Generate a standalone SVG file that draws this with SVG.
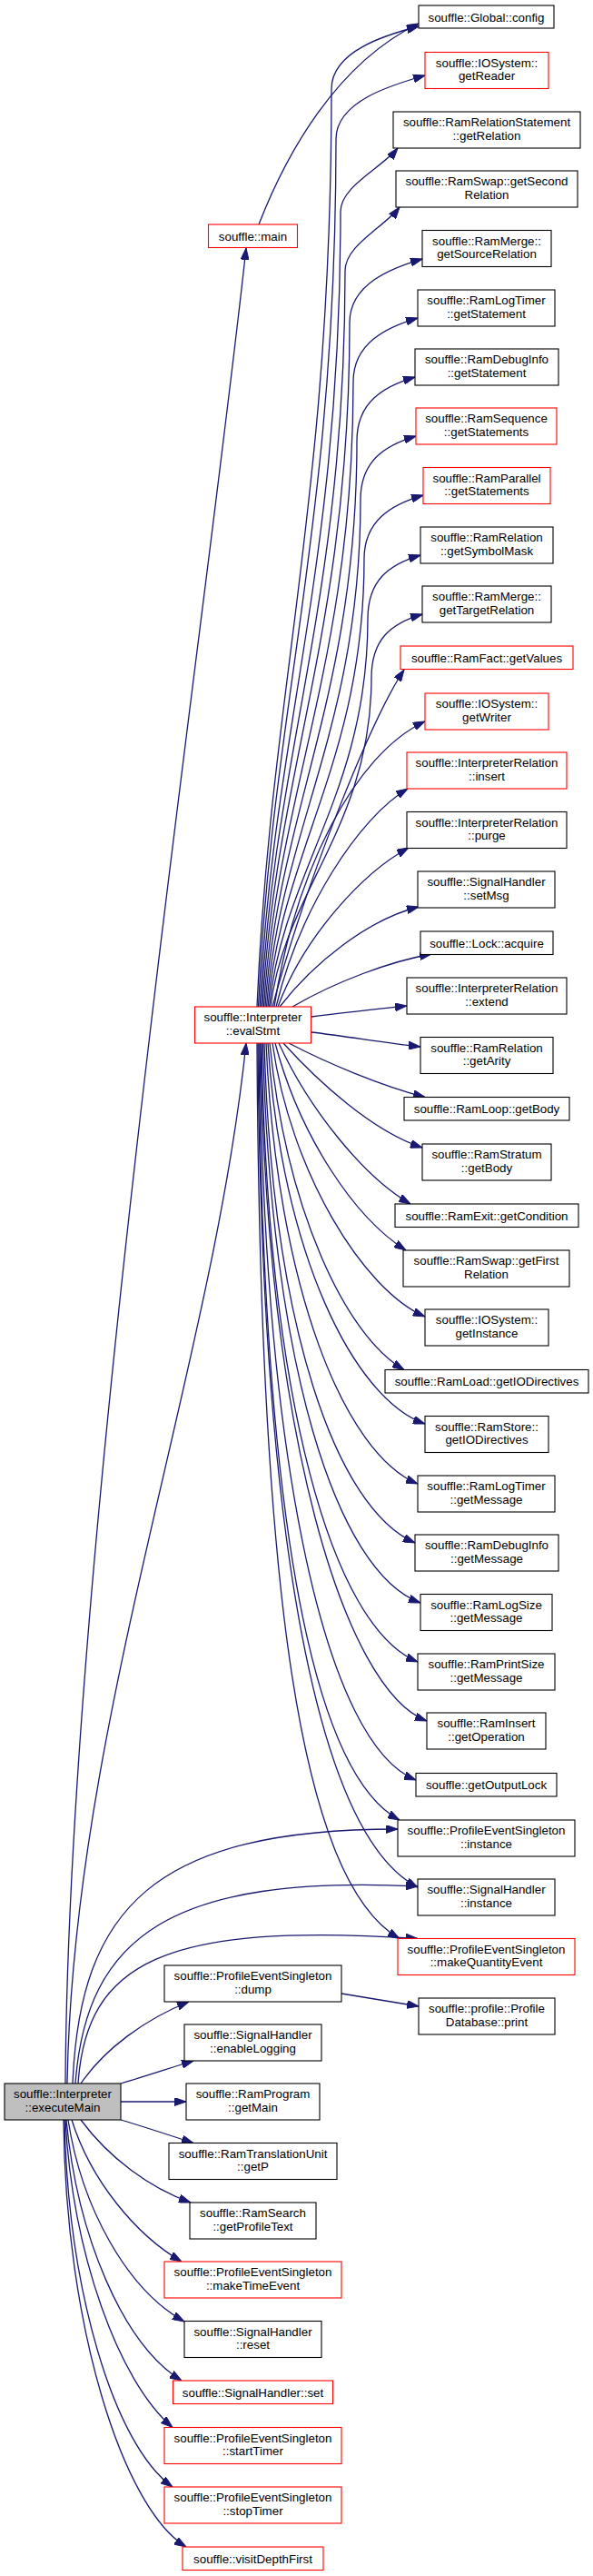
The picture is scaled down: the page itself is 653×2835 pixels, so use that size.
<svg xmlns="http://www.w3.org/2000/svg" width="653" height="2835" viewBox="0 0 653 2835">
<style>
.node rect{fill:#ffffff;stroke:#000000;stroke-width:1.1}
.node.trunc rect{stroke:#ff0000}
.node.root rect{fill:#bfbfbf}
.node text{font-family:"Liberation Sans",Arial,Helvetica,sans-serif;font-size:13.33px;text-anchor:middle;fill:#000000}
.edges path{fill:none;stroke:#191970;stroke-width:1.3;marker-end:url(#ah)}
</style>
<defs>
<marker id="ah" markerWidth="13" markerHeight="9" refX="13" refY="4.5" orient="auto" markerUnits="userSpaceOnUse">
<path d="M0,0 L13,4.5 L0,9 z" fill="#191970" stroke="#191970" stroke-width="1"/>
</marker>
</defs>
<rect x="0" y="0" width="653" height="2835" fill="#ffffff"/>
<g id="edges" class="edges">
<path d="M285,247 C315,170 370,70 461,26"/>
<path d="M283,1108 C298,754 365,552 365,98 C365,56 426,38 461,29"/>
<path d="M284.5,1108 C299.5,774 370,583 370,153 C370,111 433,93 468,83"/>
<path d="M286,1108 C301,802 375,627 375,233 C375,205 420,185 438,163"/>
<path d="M287.5,1108 C302.5,824 380,662 380,298 C380,270 423,250 440,228"/>
<path d="M289,1108 C304,844 385,694 385,355 C385,313 430,295 465,285"/>
<path d="M290.5,1108 C305.5,867 389,730 389,420 C389,378 425,360 460,350"/>
<path d="M292,1108 C307,890 393,765 393,485 C393,443 422,425 457,415"/>
<path d="M293.5,1108 C308.5,913 397,801 397,550 C397,508 423,490 458,480"/>
<path d="M295,1108 C310,935 401,837 401,615 C401,573 431,555 466,545"/>
<path d="M296.5,1108 C311.5,958 405,873 405,681 C405,639 428,621 463,611"/>
<path d="M298,1108 C313,981 409,909 409,746 C409,704 430,686 465,676"/>
<path d="M300,1108 C340,960 410,790 445,737"/>
<path d="M302,1108 C325,960 390,830 468,794"/>
<path d="M304,1108 C330,1000 395,900 449,868"/>
<path d="M306,1108 C335,1030 400,960 450,933"/>
<path d="M308,1108 C345,1060 405,1012 461,998"/>
<path d="M322,1108 C370,1080 430,1058 475,1050"/>
<path d="M343,1119 C380,1114 420,1110 448,1107"/>
<path d="M343,1136 C385,1141 425,1148 463,1152"/>
<path d="M318,1148 C360,1170 420,1195 468,1207.5"/>
<path d="M312,1148 C350,1190 410,1245 465,1263"/>
<path d="M307,1148 C340,1220 400,1295 452,1325"/>
<path d="M303,1148 C330,1250 390,1340 447,1376"/>
<path d="M300,1148 C320,1290 400,1420 468,1449"/>
<path d="M297,1148 C315,1330 380,1470 445,1507.5"/>
<path d="M295,1148 C310,1380 390,1540 468,1567"/>
<path d="M293,1148 C305,1420 380,1600 460,1633"/>
<path d="M291,1148 C300,1460 370,1660 457,1698"/>
<path d="M289.5,1148 C298,1500 370,1730 463,1764"/>
<path d="M288,1148 C295,1540 365,1790 460,1829"/>
<path d="M287,1148 C293,1580 380,1860 470,1894"/>
<path d="M286,1148 C291,1620 360,1920 458,1959"/>
<path d="M285,1148 C289,1650 340,1950 440,2003"/>
<path d="M284,1148 C288,1700 350,2020 460,2077"/>
<path d="M283,1148 C286,1750 330,2070 440,2133.5"/>
<path d="M72,2293 C75,1700 225,700 271,273"/>
<path d="M74,2293 C80,1900 235,1500 271,1148"/>
<path d="M80,2293 C88,2100 170,2013 438,2013"/>
<path d="M83,2293 C95,2130 190,2063 460,2076"/>
<path d="M86,2293 C95,2160 180,2115 460,2133.5"/>
<path d="M89,2293 C115,2255 160,2222 208,2203"/>
<path d="M133,2293 C160,2285 190,2275 213,2268"/>
<path d="M133,2313 L205,2313"/>
<path d="M133,2333 C160,2341 190,2351 213,2358.5"/>
<path d="M89,2333 C120,2375 165,2408 210,2424"/>
<path d="M79,2333 C100,2400 150,2460 200,2489"/>
<path d="M75,2333 C90,2430 140,2520 203,2555"/>
<path d="M73,2333 C85,2460 135,2580 200,2620"/>
<path d="M72,2333 C80,2480 130,2620 190,2671.5"/>
<path d="M71,2333 C75,2520 125,2690 190,2737"/>
<path d="M70,2333 C72,2560 135,2760 205,2803"/>
<path d="M376,2194 C400,2198 430,2203 461,2208"/>
</g>
<g id="n_executeMain" class="node root"><rect x="5" y="2293" width="128" height="40"/><text x="69" y="2309">souffle::Interpreter</text><text x="69" y="2323.5">::executeMain</text></g>
<g id="n_main" class="node trunc"><rect x="229.5" y="247" width="98" height="25.5"/><text x="278.5" y="264.5">souffle::main</text></g>
<g id="n_evalStmt" class="node trunc"><rect x="214.5" y="1108" width="128" height="40"/><text x="278.5" y="1124">souffle::Interpreter</text><text x="278.5" y="1138.5">::evalStmt</text></g>
<g id="n_dump" class="node"><rect x="181" y="2163" width="195" height="40"/><text x="278.5" y="2179">souffle::ProfileEventSingleton</text><text x="278.5" y="2193.5">::dump</text></g>
<g id="n_enableLogging" class="node"><rect x="203" y="2228" width="151" height="40"/><text x="278.5" y="2244">souffle::SignalHandler</text><text x="278.5" y="2258.5">::enableLogging</text></g>
<g id="n_getMain" class="node"><rect x="205" y="2293" width="147" height="40"/><text x="278.5" y="2309">souffle::RamProgram</text><text x="278.5" y="2323.5">::getMain</text></g>
<g id="n_getP" class="node"><rect x="186" y="2358.5" width="185" height="40"/><text x="278.5" y="2374.5">souffle::RamTranslationUnit</text><text x="278.5" y="2389">::getP</text></g>
<g id="n_getProfileText" class="node"><rect x="209" y="2424" width="139" height="40"/><text x="278.5" y="2440">souffle::RamSearch</text><text x="278.5" y="2454.5">::getProfileText</text></g>
<g id="n_makeTimeEvent" class="node trunc"><rect x="181" y="2489" width="195" height="40"/><text x="278.5" y="2505">souffle::ProfileEventSingleton</text><text x="278.5" y="2519.5">::makeTimeEvent</text></g>
<g id="n_reset" class="node"><rect x="203" y="2554.5" width="151" height="40"/><text x="278.5" y="2570.5">souffle::SignalHandler</text><text x="278.5" y="2585">::reset</text></g>
<g id="n_set" class="node trunc"><rect x="190.5" y="2620" width="176" height="25.5"/><text x="278.5" y="2637.5">souffle::SignalHandler::set</text></g>
<g id="n_startTimer" class="node trunc"><rect x="181" y="2671.5" width="195" height="40"/><text x="278.5" y="2687.5">souffle::ProfileEventSingleton</text><text x="278.5" y="2702">::startTimer</text></g>
<g id="n_stopTimer" class="node trunc"><rect x="181" y="2737" width="195" height="40"/><text x="278.5" y="2753">souffle::ProfileEventSingleton</text><text x="278.5" y="2767.5">::stopTimer</text></g>
<g id="n_visitDepthFirst" class="node trunc"><rect x="201" y="2803" width="155" height="25.5"/><text x="278.5" y="2820.5">souffle::visitDepthFirst</text></g>
<g id="n_config" class="node"><rect x="461" y="6" width="149" height="25"/><text x="535.5" y="23.5">souffle::Global::config</text></g>
<g id="n_getReader" class="node trunc"><rect x="468" y="57.5" width="136" height="40"/><text x="536" y="73.5">souffle::IOSystem::</text><text x="536" y="88">getReader</text></g>
<g id="n_getRelation" class="node"><rect x="433" y="123" width="206" height="40"/><text x="536" y="139">souffle::RamRelationStatement</text><text x="536" y="153.5">::getRelation</text></g>
<g id="n_getSecondRelation" class="node"><rect x="436" y="188" width="200" height="40"/><text x="536" y="204">souffle::RamSwap::getSecond</text><text x="536" y="218.5">Relation</text></g>
<g id="n_getSourceRelation" class="node"><rect x="465" y="253.5" width="142" height="40"/><text x="536" y="269.5">souffle::RamMerge::</text><text x="536" y="284">getSourceRelation</text></g>
<g id="n_logTimerGetStatement" class="node"><rect x="460" y="319" width="151" height="40"/><text x="535.5" y="335">souffle::RamLogTimer</text><text x="535.5" y="349.5">::getStatement</text></g>
<g id="n_debugInfoGetStatement" class="node"><rect x="457" y="384" width="158" height="40"/><text x="536" y="400">souffle::RamDebugInfo</text><text x="536" y="414.5">::getStatement</text></g>
<g id="n_seqGetStatements" class="node trunc"><rect x="458" y="449" width="155" height="40"/><text x="535.5" y="465">souffle::RamSequence</text><text x="535.5" y="479.5">::getStatements</text></g>
<g id="n_parGetStatements" class="node trunc"><rect x="466" y="514.5" width="140" height="40"/><text x="536" y="530.5">souffle::RamParallel</text><text x="536" y="545">::getStatements</text></g>
<g id="n_getSymbolMask" class="node"><rect x="463" y="580" width="146" height="40"/><text x="536" y="596">souffle::RamRelation</text><text x="536" y="610.5">::getSymbolMask</text></g>
<g id="n_getTargetRelation" class="node"><rect x="465" y="645" width="142" height="40"/><text x="536" y="661">souffle::RamMerge::</text><text x="536" y="675.5">getTargetRelation</text></g>
<g id="n_getValues" class="node trunc"><rect x="441" y="711" width="190" height="25.5"/><text x="536" y="728.5">souffle::RamFact::getValues</text></g>
<g id="n_getWriter" class="node trunc"><rect x="468" y="763" width="136" height="40"/><text x="536" y="779">souffle::IOSystem::</text><text x="536" y="793.5">getWriter</text></g>
<g id="n_insert" class="node trunc"><rect x="448" y="828" width="176" height="40"/><text x="536" y="844">souffle::InterpreterRelation</text><text x="536" y="858.5">::insert</text></g>
<g id="n_purge" class="node"><rect x="448" y="893.5" width="176" height="40"/><text x="536" y="909.5">souffle::InterpreterRelation</text><text x="536" y="924">::purge</text></g>
<g id="n_setMsg" class="node"><rect x="460" y="959" width="151" height="40"/><text x="535.5" y="975">souffle::SignalHandler</text><text x="535.5" y="989.5">::setMsg</text></g>
<g id="n_acquire" class="node"><rect x="463" y="1025" width="146" height="25.5"/><text x="536" y="1042.5">souffle::Lock::acquire</text></g>
<g id="n_extend" class="node"><rect x="448" y="1076" width="176" height="40"/><text x="536" y="1092">souffle::InterpreterRelation</text><text x="536" y="1106.5">::extend</text></g>
<g id="n_getArity" class="node"><rect x="463" y="1141.5" width="146" height="40"/><text x="536" y="1157.5">souffle::RamRelation</text><text x="536" y="1172">::getArity</text></g>
<g id="n_loopGetBody" class="node"><rect x="445" y="1207.5" width="182" height="25.5"/><text x="536" y="1225">souffle::RamLoop::getBody</text></g>
<g id="n_stratumGetBody" class="node"><rect x="465" y="1259" width="142" height="40"/><text x="536" y="1275">souffle::RamStratum</text><text x="536" y="1289.5">::getBody</text></g>
<g id="n_getCondition" class="node"><rect x="435" y="1325" width="202" height="25.5"/><text x="536" y="1342.5">souffle::RamExit::getCondition</text></g>
<g id="n_getFirstRelation" class="node"><rect x="444" y="1376" width="183" height="40"/><text x="535.5" y="1392">souffle::RamSwap::getFirst</text><text x="535.5" y="1406.5">Relation</text></g>
<g id="n_getInstance" class="node"><rect x="468" y="1441" width="136" height="40"/><text x="536" y="1457">souffle::IOSystem::</text><text x="536" y="1471.5">getInstance</text></g>
<g id="n_loadGetIODirectives" class="node"><rect x="424" y="1507.5" width="224" height="25.5"/><text x="536" y="1525">souffle::RamLoad::getIODirectives</text></g>
<g id="n_storeGetIODirectives" class="node"><rect x="468" y="1558.5" width="136" height="40"/><text x="536" y="1574.5">souffle::RamStore::</text><text x="536" y="1589">getIODirectives</text></g>
<g id="n_logTimerGetMessage" class="node"><rect x="460" y="1624" width="151" height="40"/><text x="535.5" y="1640">souffle::RamLogTimer</text><text x="535.5" y="1654.5">::getMessage</text></g>
<g id="n_debugInfoGetMessage" class="node"><rect x="457" y="1689" width="158" height="40"/><text x="536" y="1705">souffle::RamDebugInfo</text><text x="536" y="1719.5">::getMessage</text></g>
<g id="n_logSizeGetMessage" class="node"><rect x="463" y="1754.5" width="145" height="40"/><text x="535.5" y="1770.5">souffle::RamLogSize</text><text x="535.5" y="1785">::getMessage</text></g>
<g id="n_printSizeGetMessage" class="node"><rect x="460" y="1820" width="151" height="40"/><text x="535.5" y="1836">souffle::RamPrintSize</text><text x="535.5" y="1850.5">::getMessage</text></g>
<g id="n_getOperation" class="node"><rect x="470" y="1885" width="131" height="40"/><text x="535.5" y="1901">souffle::RamInsert</text><text x="535.5" y="1915.5">::getOperation</text></g>
<g id="n_getOutputLock" class="node"><rect x="458" y="1951.5" width="155" height="25.5"/><text x="535.5" y="1969">souffle::getOutputLock</text></g>
<g id="n_pesInstance" class="node"><rect x="438" y="2003" width="195" height="40"/><text x="535.5" y="2019">souffle::ProfileEventSingleton</text><text x="535.5" y="2033.5">::instance</text></g>
<g id="n_shInstance" class="node"><rect x="460" y="2068" width="151" height="40"/><text x="535.5" y="2084">souffle::SignalHandler</text><text x="535.5" y="2098.5">::instance</text></g>
<g id="n_makeQuantityEvent" class="node trunc"><rect x="438" y="2133.5" width="195" height="40"/><text x="535.5" y="2149.5">souffle::ProfileEventSingleton</text><text x="535.5" y="2164">::makeQuantityEvent</text></g>
<g id="n_dbPrint" class="node"><rect x="461" y="2199" width="150" height="40"/><text x="536" y="2215">souffle::profile::Profile</text><text x="536" y="2229.5">Database::print</text></g>
</svg>
